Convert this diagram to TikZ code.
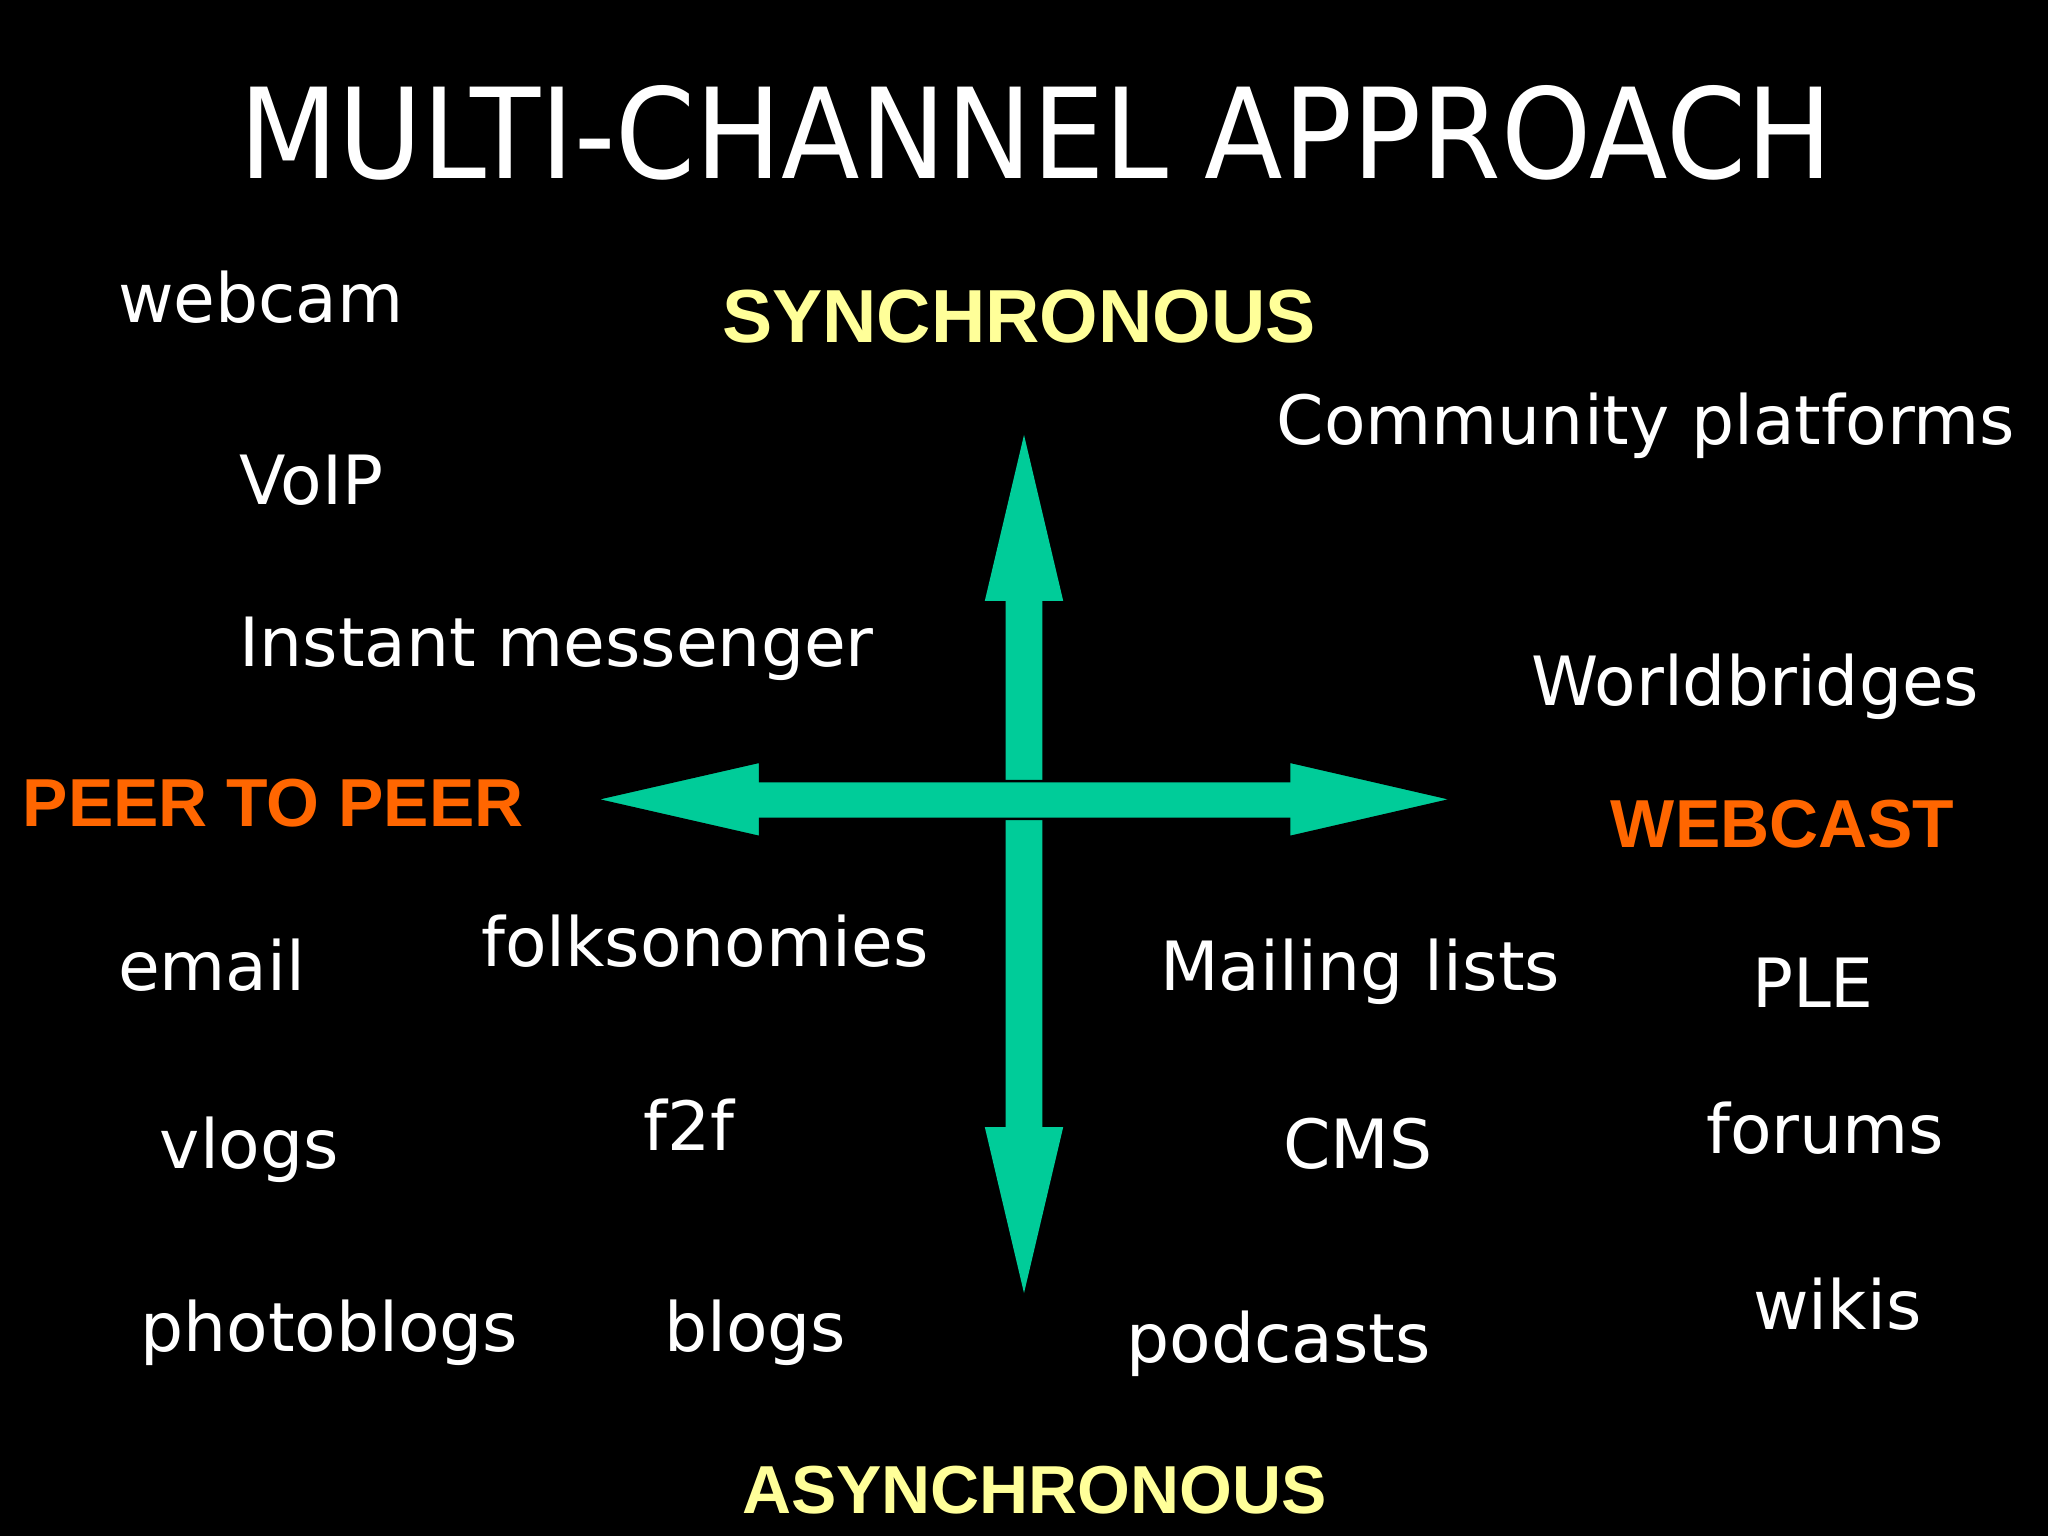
\documentclass[tikz,border=0pt]{standalone}
\usepackage{fontspec}
\setmainfont{DejaVu Sans}
\newfontfamily\arialf{Liberation Sans}
\definecolor{grn}{HTML}{00CC99}
\definecolor{ylw}{HTML}{FFFF99}
\definecolor{org}{HTML}{FF6600}
\begin{document}
\begin{tikzpicture}[x=0.5pt,y=-0.5pt,
 lbl/.style={text=white,font=\fontsize{26}{30}\selectfont,anchor=base west,inner sep=0pt},
 ax/.style={font=\arialf\bfseries\fontsize{26}{30}\selectfont,inner sep=0pt,anchor=base},
 arr/.style={fill=grn,draw=black,line width=1pt}]
\fill[black] (0,0) rectangle (1568,1176);
\node[text=white,font=\fontsize{48}{56}\selectfont,inner sep=0pt,anchor=base,xscale=0.915] (title) at (793,137) {MULTI-CHANNEL APPROACH};
\node[ax,text=ylw,font=\arialf\bfseries\fontsize{28.8}{32}\selectfont] (syn) at (780,262) {SYNCHRONOUS};
\node[ax,text=ylw] (asyn) at (792,1159) {ASYNCHRONOUS};
\node[ax,text=org,anchor=base west] (p2p) at (17,633) {PEER TO PEER};
\node[ax,text=org,anchor=base west] (wc) at (1233,649) {WEBCAST};
\node[lbl] (a) at (90,247) {webcam};
\node[lbl] (b) at (977,340) {Community platforms};
\node[lbl] (c) at (183,386) {VoIP};
\node[lbl] (d) at (183,510) {Instant messenger};
\node[lbl] (e) at (1172,540) {Worldbridges};
\node[lbl] (f) at (90,758) {email};
\node[lbl] (g) at (368,740) {folksonomies};
\node[lbl] (h) at (888,758) {Mailing lists};
\node[lbl] (i) at (1341,771) {PLE};
\node[lbl] (j) at (122,895) {vlogs};
\node[lbl] (k) at (492,881) {f2f};
\node[lbl] (l) at (982,895) {CMS};
\node[lbl] (m) at (1306,883) {forums};
\node[lbl] (n) at (107,1035) {photoblogs};
\node[lbl] (o) at (508,1035) {blogs};
\node[lbl] (p) at (862,1043) {podcasts};
\node[lbl] (q) at (1342,1018) {wikis};
% vertical arrow
\fill[grn] (784,333) -- (814,460) -- (798,460) -- (798,863) -- (814,863) -- (784,990) -- (754,863) -- (770,863) -- (770,460) -- (754,460) -- cycle;
% horizontal arrow
\draw[arr] (455,612) -- (582,583) -- (582,598) -- (987,598) -- (987,583) -- (1113,612) -- (987,641) -- (987,627) -- (582,627) -- (582,641) -- cycle;
\end{tikzpicture}
\end{document}
